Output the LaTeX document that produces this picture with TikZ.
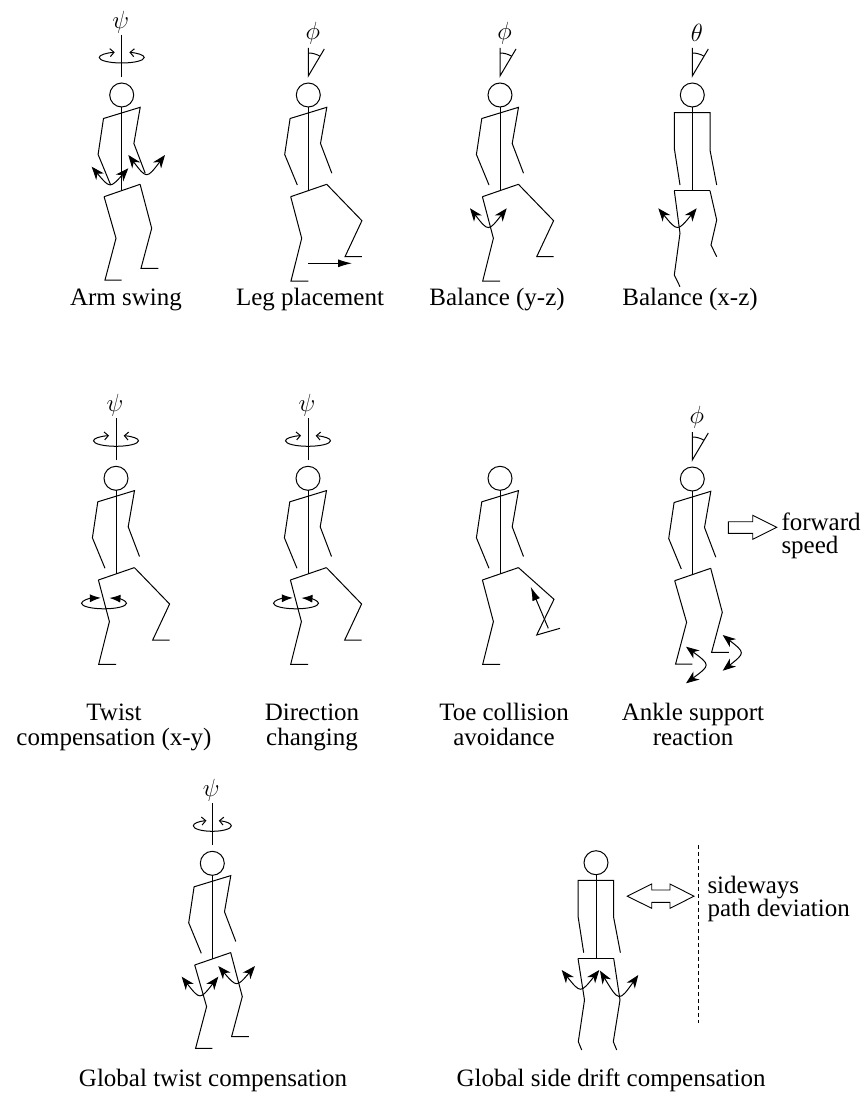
\documentclass[tikz,border=0pt]{standalone}
\usepackage{fontspec}
\setmainfont{Liberation Serif}
\usetikzlibrary{arrows.meta}
\begin{document}
\begin{tikzpicture}[x=1pt,y=-1pt,line width=1pt,
  swing/.style={{Stealth[length=13pt,width=10pt,inset=4pt]}-{Stealth[length=13pt,width=10pt,inset=4pt]}},
  push/.style={-{Latex[length=14pt,width=8pt]}},
  caption/.style={font=\fontsize{25}{25}\selectfont,inner sep=0pt,anchor=base},
  sidetext/.style={font=\fontsize{25}{25}\selectfont,inner sep=0pt,anchor=base west},
  greek/.style={font=\fontsize{27}{27}\selectfont,inner sep=0pt},
  blockarrow/.style={line width=0.9pt,fill=white},
  % head and spine
  pics/headspine/.style={code={
    \draw (0,0) circle[radius=12];
    \draw (0,12) -- (0,95.6);}},
  % side view: shoulders, arms, hips
  pics/sidetorso/.style={code={
    \draw (-11,90) -- (-23.6,59.5) -- (-18.2,23.5) -- (18.5,12.3) -- (12.2,48.5) -- (23.5,78.2);
    \draw (-17.6,101.7) -- (18.4,89.3);}},
  % front view: shoulders, arms, hips
  pics/fronttorso/.style={code={
    \draw (-12.3,90) -- (-18,53.3) -- (-18,17.7) -- (17.7,17.7) -- (17.7,55) -- (24.4,90);
    \draw (-18,95.7) -- (17.7,95.7);}},
  % legs, side view
  pics/legsbent/.style={code={
    \draw (0,185) -- (-16.7,185) -- (-5.7,143.3) -- (-17.6,101.7);
    \draw (18.4,89.3) -- (30,133.3) -- (19.3,173.3) -- (36.6,173.3);}},
  pics/legslunge/.style={code={
    \draw (0,186) -- (-17.3,186) -- (-6.6,143.3) -- (-17.6,101.7);
    \draw (18.4,89.3) -- (53.6,125.7) -- (36.7,161.7) -- (53.6,161.7);}},
  pics/legstoe/.style={code={
    \draw (0,186) -- (-17.3,186) -- (-6.6,143.3) -- (-17.6,101.7);
    \draw (18.4,89.3) -- (54,121) -- (36.7,156.7) -- (60,150);}},
  % legs, front view
  pics/legsfrontA/.style={code={
    \draw (-18,95.7) -- (-12.3,138.3) -- (-18,180) -- (-12.3,191.7);
    \draw (17.7,95.7) -- (24.4,125) -- (18.7,150) -- (24.4,161.7);}},
  pics/legsfrontB/.style={code={
    \draw (-18,95.7) -- (-11.5,137.3) -- (-17.7,179) -- (-14.3,187.3);
    \draw (17.7,95.7) -- (24,137.3) -- (17.3,179) -- (20.7,187.3);}},
  % tilt angle above the head
  pics/tilt/.style={code={
    \draw (0,-47) -- (0,-19) -- (16,-46);
    \draw (0,-42) arc[start angle=-90,end angle=-59.4,radius=23];
    \node[greek] at (4.5,-62) {$#1$};}},
  % yaw rotation about the vertical axis
  pics/yaw/.style={code={
    \draw (0,-60) -- (0,-18);
    \draw[-{Straight Barb[length=4pt,width=8pt]}] (0,-32) arc[start angle=90,end angle=252,x radius=#1,y radius=5.5];
    \draw[-{Straight Barb[length=4pt,width=8pt]}] (0,-32) arc[start angle=90,end angle=-70,x radius=#1,y radius=5.5];
    \node[greek] at (-1,-73) {$\psi$};}},
  % yaw rotation of the stance leg
  pics/legyaw/.style={code={
    \draw[-{Latex[length=11pt,width=8pt]}] (-12,130.5) arc[start angle=90,end angle=262,x radius=22.5,y radius=5.5];
    \draw[-{Latex[length=11pt,width=8pt]}] (-12,130.5) arc[start angle=90,end angle=-76,x radius=22.5,y radius=5.5];}}
]
\useasboundingbox (0,0) rectangle (867,1097);

% ---- Arm swing
\pic at (121.7,95) {yaw=22.5};
\pic at (121.7,95) {headspine};
\pic at (121.7,95) {sidetorso};
\pic at (121.7,95) {legsbent};
\coordinate (as1) at (91.7,166.7); \coordinate (as2) at (128.3,168.3);
\coordinate (as3) at (128.3,155); \coordinate (as4) at (165,155);
\draw[swing] (as1) .. controls (110,188.5) .. (as2);
\draw[swing] (as3) .. controls (146.7,179) .. (as4);
\node[caption] (c1) at (126,305) {Arm swing};

% ---- Leg placement
\pic at (308.3,95) {tilt=\phi};
\pic at (308.3,95) {headspine};
\pic at (308.3,95) {sidetorso};
\pic at (308.3,95) {legslunge};
\coordinate (lp1) at (308.3,263.3); \coordinate (lp2) at (352,263.3);
\draw[push] (lp1) -- (lp2);
\node[caption] (c2) at (310,305) {Leg placement};

% ---- Balance (y-z)
\pic at (500,95) {tilt=\phi};
\pic at (500,95) {headspine};
\pic at (500,95) {sidetorso};
\pic at (500,95) {legslunge};
\coordinate (by1) at (470,208.3); \coordinate (by2) at (506.7,208.3);
\draw[swing] (by1) .. controls (488.3,231.7) .. (by2);
\node[caption] (c3) at (497,305) {Balance (y-z)};

% ---- Balance (x-z)
\pic at (692.3,95) {tilt=\theta};
\pic at (692.3,95) {headspine};
\pic at (692.3,95) {fronttorso};
\pic at (692.3,95) {legsfrontA};
\coordinate (bx1) at (658.3,208.3); \coordinate (bx2) at (696.7,208.3);
\draw[swing] (bx1) .. controls (677.5,231.7) .. (bx2);
\node[caption] (c4) at (690,305) {Balance (x-z)};

% ---- Twist compensation (x-y)
\pic at (116,478.3) {yaw=22.5};
\pic at (116,478.3) {headspine};
\pic at (116,478.3) {sidetorso};
\pic at (116,478.3) {legslunge};
\pic at (116,478.3) {legyaw};
\node[caption] (c5a) at (114,720) {Twist};
\node[caption] (c5b) at (114,745) {compensation (x-y)};

% ---- Direction changing
\pic at (308,478.3) {yaw=22.5};
\pic at (308,478.3) {headspine};
\pic at (308,478.3) {sidetorso};
\pic at (308,478.3) {legslunge};
\pic at (308,478.3) {legyaw};
\node[caption] (c6a) at (312,720) {Direction};
\node[caption] (c6b) at (312,745) {changing};

% ---- Toe collision avoidance
\pic at (500,478.3) {headspine};
\pic at (500,478.3) {sidetorso};
\pic at (500,478.3) {legstoe};
\coordinate (tc1) at (548.3,628.3); \coordinate (tc2) at (530.7,586.7);
\draw[push] (tc1) -- (tc2);
\node[caption] (c7a) at (504,720) {Toe collision};
\node[caption] (c7b) at (504,745) {avoidance};

% ---- Ankle support reaction
\pic at (692.3,479) {tilt=\phi};
\pic at (692.3,479) {headspine};
\pic at (692.3,479) {sidetorso};
\pic at (692.3,479) {legsbent};
\coordinate (ak1) at (686,646.7); \coordinate (ak2) at (686,683.3);
\coordinate (ak3) at (722.7,635); \coordinate (ak4) at (722.7,670.7);
\draw[swing] (ak1) .. controls (710.6,665) .. (ak2);
\draw[swing] (ak3) .. controls (745.3,652.8) .. (ak4);
\draw[blockarrow] (728.3,521.7) -- (752.7,521.7) -- (752.7,515.3) -- (776.7,527.3)
  -- (752.7,539.3) -- (752.7,533.3) -- (728.3,533.3) -- cycle;
\node[sidetext] (fs1) at (781,530) {forward};
\node[sidetext] (fs2) at (781,553) {speed};
\node[caption] (c8a) at (693,720) {Ankle support};
\node[caption] (c8b) at (693,745) {reaction};

% ---- Global twist compensation
\pic at (212.3,863.3) {yaw=19};
\pic at (212.3,863.3) {headspine};
\pic at (212.3,863.3) {sidetorso};
\pic at (212.3,863.3) {legsbent};
\coordinate (gt1) at (181.7,976.7); \coordinate (gt2) at (218.3,976.7);
\coordinate (gt3) at (218.3,966); \coordinate (gt4) at (255,966);
\draw[swing] (gt1) .. controls (200,1000) .. (gt2);
\draw[swing] (gt3) .. controls (236.7,987.4) .. (gt4);
\node[caption] (c9) at (213,1086) {Global twist compensation};

% ---- Global side drift compensation
\pic at (596,862.7) {headspine};
\pic at (596,862.7) {fronttorso};
\pic at (596,862.7) {legsfrontB};
\coordinate (gs1) at (561.7,970); \coordinate (gs2) at (599.3,970);
\coordinate (gs3) at (600,970.7); \coordinate (gs4) at (638.3,975);
\draw[swing] (gs1) .. controls (580.5,993.4) .. (gs2);
\draw[swing] (gs3) .. controls (619,1002) .. (gs4);
\draw[blockarrow] (627.3,896.2) -- (651.7,884) -- (651.7,890) -- (670,890) -- (670,884)
  -- (694,896.2) -- (670,908.3) -- (670,902.3) -- (651.7,902.3) -- (651.7,908.3) -- cycle;
\coordinate (path1) at (698.3,845); \coordinate (path2) at (698.3,1023.3);
\draw[line width=0.9pt,dash pattern=on 4pt off 3pt] (path1) -- (path2);
\node[sidetext] (sd1) at (707,893) {sideways};
\node[sidetext] (sd2) at (707,916) {path deviation};
\node[caption] (c10) at (611,1086) {Global side drift compensation};
\end{tikzpicture}
\end{document}
